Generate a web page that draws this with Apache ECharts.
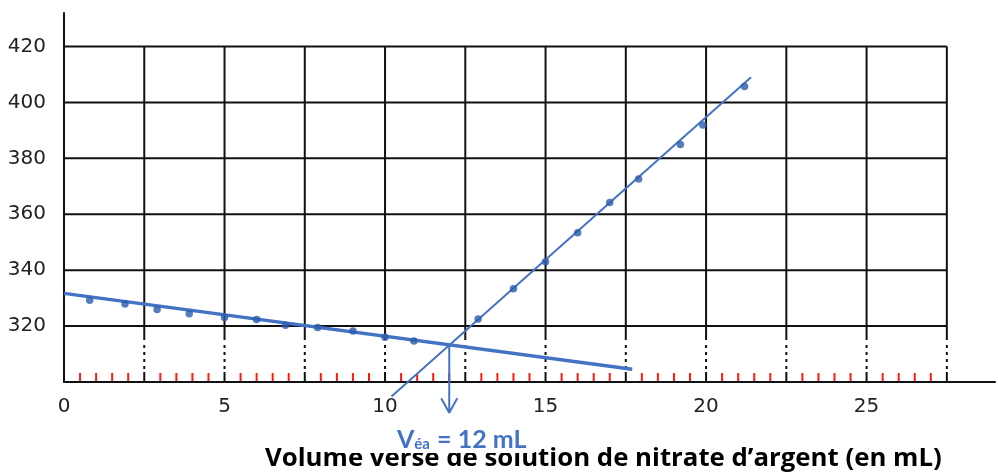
<!DOCTYPE html>
<html><head><meta charset="utf-8">
<script src="https://cdn.jsdelivr.net/npm/echarts@6/dist/echarts.min.js"></script>
<style>html,body{margin:0;padding:0;background:#fff}#c{width:998px;height:473px}</style>
</head><body><div id="c"></div>
<script>
// ---- data ----
var beforeX = [0.8, 1.9, 2.9, 3.9, 5.0, 6.0, 6.9, 7.9, 9.0, 10.0, 10.9];
var beforeY = [329.2, 327.9, 325.9, 324.4, 323.1, 322.4, 320.3, 319.5, 318.2, 316.0, 314.7];
var afterX = [12.9, 14.0, 15.0, 16.0, 17.0, 17.9, 19.2, 19.9, 21.2];
var afterY = [322.5, 333.4, 343.0, 353.4, 364.2, 372.6, 385.0, 391.9, 405.7];
var fitBefore = [[0, 331.7], [17.7, 304.6]];
var fitAfter = [[10.2, 294.8], [21.4, 409.0]];
var veq = 12;
var veqY = 313.2;
var arrowTipY = 289.0;
var arrowHeadY = 294.2;
var arrowHalfW = 0.25;
var gridXs = [0, 2.5, 5, 7.5, 10, 12.5, 15, 17.5, 20, 22.5, 25, 27.5];
var gridYs = [320, 340, 360, 380, 400, 420];
var xTickLabels = [0, 5, 10, 15, 20, 25];
var yTickLabels = [320, 340, 360, 380, 400, 420];
var minorStep = 0.5;
var labelText = '{v|V}{s|éa}{v| = 12 mL}';
var axisTitle = 'Volume versé de solution de nitrate d\u2019argent (en mL)';

// ---- build derived arrays ----
function zip(a, b) { return a.map(function (v, i) { return [v, b[i]]; }); }
var minorTicks = [];
for (var k = 1; k * minorStep <= gridXs[gridXs.length - 1] - minorStep + 1e-9; k++) {
  var mx = k * minorStep;
  if (Math.abs(mx / 2.5 - Math.round(mx / 2.5)) > 1e-6) minorTicks.push([mx, 300]);
}
var xMax = gridXs[gridXs.length - 1];
var blue = '#4472C4';

var chart = echarts.init(document.getElementById('c'), null, {renderer: 'canvas'});
chart.setOption({
  animation: false,
  grid: {left: 64, right: 2, top: 13, bottom: 91},
  xAxis: {
    type: 'value', min: 0, max: 29, interval: 5,
    axisLine: {show: true, lineStyle: {color: '#111', width: 2}},
    axisTick: {show: false},
    splitLine: {show: false},
    axisLabel: {
      color: '#222', fontFamily: 'DejaVu Sans', fontSize: 20, margin: 15,
      formatter: function (v) { return xTickLabels.indexOf(v) >= 0 ? String(v) : ''; }
    }
  },
  yAxis: {
    type: 'value', min: 300, max: 432, interval: 20,
    axisLine: {show: true, lineStyle: {color: '#111', width: 2}},
    axisTick: {show: false},
    splitLine: {show: false},
    axisLabel: {
      color: '#222', fontFamily: 'DejaVu Sans', fontSize: 20, margin: 18,
      padding: [0, 0, 9, 0],
      formatter: function (v) { return yTickLabels.indexOf(v) >= 0 ? String(v) : ''; }
    }
  },
  graphic: [
    {type: 'text', left: 265, top: 446, z: 10,
     style: {text: axisTitle, fontFamily: 'Open Sans', fontWeight: 'bold', fontSize: 25.8, fill: '#000'}},
    {type: 'text', left: 337, top: 426, z: 11,
     style: {text: labelText, backgroundColor: '#fff', padding: [0, 8, 0, 60], rich: {
       v: {fontFamily: 'Lato', fontWeight: 'bold', fontSize: 25, fill: blue, lineHeight: 27},
       s: {fontFamily: 'Lato', fontWeight: 'bold', fontSize: 15, fill: blue, lineHeight: 27, padding: [10, 1, 0, 0]}
     }}}
  ],
  series: [
    {
      type: 'custom', name: 'hgrid', silent: true, clip: false, z: 1,
      data: gridYs.map(function (y) { return [0, y]; }),
      renderItem: function (params, api) {
        var a = api.coord([0, api.value(1)]), b = api.coord([xMax, api.value(1)]);
        return {type: 'line', shape: {x1: a[0], y1: a[1], x2: b[0], y2: b[1]},
                style: {stroke: '#111', lineWidth: 2}};
      }
    },
    {
      type: 'custom', name: 'vgrid', silent: true, clip: false, z: 1,
      data: gridXs.map(function (x) { return [x, 300]; }),
      renderItem: function (params, api) {
        var x = api.value(0);
        var top = api.coord([x, gridYs[gridYs.length - 1]]);
        var mid = api.coord([x, gridYs[0]]);
        var bot = api.coord([x, 300]);
        var children = [];
        if (x === 0) return {type: 'group', children: []};
        children.push({type: 'line', shape: {x1: top[0], y1: top[1], x2: mid[0], y2: mid[1] + 14},
          style: {stroke: '#111', lineWidth: 2}});
        children.push({type: 'line', shape: {x1: mid[0], y1: mid[1] + 19, x2: mid[0], y2: bot[1] - 12},
          style: {stroke: '#111', lineWidth: 2, lineDash: [3, 4]}});
        children.push({type: 'line', shape: {x1: bot[0], y1: bot[1] - 10, x2: bot[0], y2: bot[1]},
          style: {stroke: '#111', lineWidth: 2}});
        return {type: 'group', children: children};
      }
    },
    {
      type: 'custom', name: 'minor', silent: true, clip: false, z: 1,
      data: minorTicks,
      renderItem: function (params, api) {
        var p = api.coord([api.value(0), api.value(1)]);
        return {type: 'line', shape: {x1: p[0], y1: p[1] - 9, x2: p[0], y2: p[1] - 1},
                style: {stroke: '#ff1a1a', lineWidth: 2}};
      }
    },
    {type: 'line', name: 'fit1', data: fitBefore, showSymbol: false, symbol: 'none', clip: false, z: 3,
     lineStyle: {color: blue, width: 3.5}},
    {type: 'line', name: 'fit2', data: fitAfter, showSymbol: false, symbol: 'none', clip: false, z: 3,
     lineStyle: {color: blue, width: 2}},
    {type: 'line', name: 'arrow', data: [[veq, veqY], [veq, arrowTipY]], symbol: 'none', clip: false, z: 3,
     lineStyle: {color: blue, width: 2}},
    {type: 'line', name: 'arrowhead', data: [[veq - arrowHalfW, arrowHeadY], [veq, arrowTipY], [veq + arrowHalfW, arrowHeadY]],
     symbol: 'none', clip: false, z: 3, lineStyle: {color: blue, width: 2}},
    {type: 'scatter', name: 'avant', data: zip(beforeX, beforeY), symbol: 'circle', symbolSize: 7.5, z: 4,
     itemStyle: {color: '#2a5caa'}},
    {type: 'scatter', name: 'apres', data: zip(afterX, afterY), symbol: 'circle', symbolSize: 7.5, z: 4,
     itemStyle: {color: '#2a5caa'}}
  ]
});
</script></body></html>
